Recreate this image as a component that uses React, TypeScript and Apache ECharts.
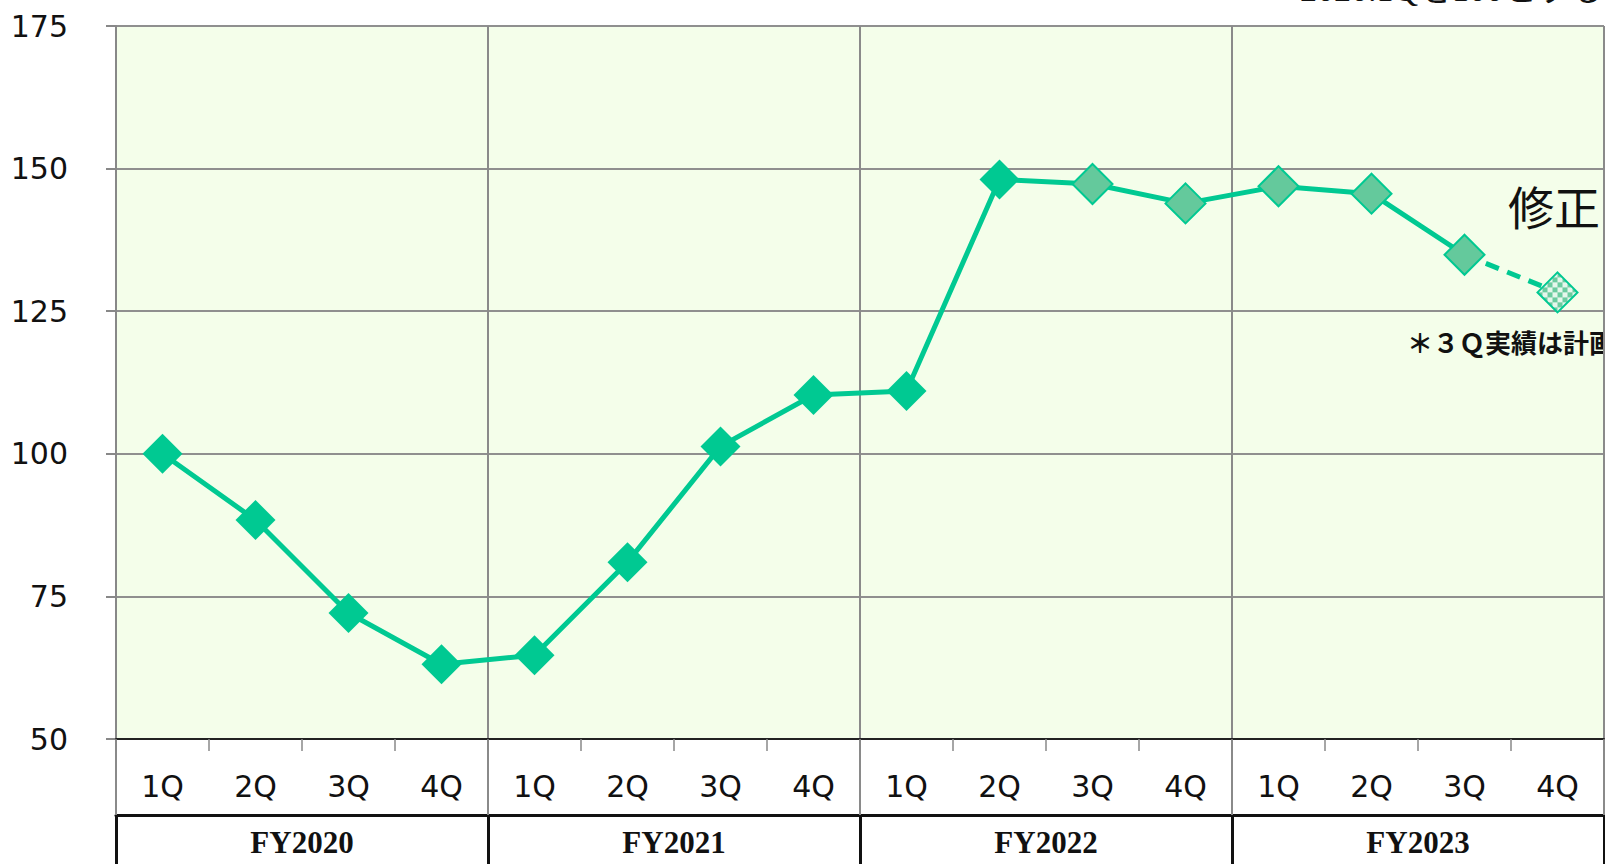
import React, { useEffect, useRef } from 'react';
import * as echarts from 'echarts';

const quarters = ['1Q', '2Q', '3Q', '4Q', '1Q', '2Q', '3Q', '4Q', '1Q', '2Q', '3Q', '4Q', '1Q', '2Q', '3Q', '4Q'];
const fiscalYears = ['FY2020', 'FY2021', 'FY2022', 'FY2023'];
const indexValues = [100, 88.4, 72.1, 63.1, 64.7, 81.0, 101.3, 110.3, 111.0, 148.1, 147.3, 143.9, 146.9, 145.6, 134.9, 128.3];
const brightCount = 10; // first points drawn in the solid bright colour
const planIndex = 15; // last point: plan (dashed segment, checkered marker)
const yMin = 50;
const yMax = 175;
const yStep = 25;
const topNote = '2020.1Qを100とする';
const reviseNote = '修正';
const footNote = '＊３Ｑ実績は計画';

const LINE = '#00C992';
const LIGHT = '#64C99C';

export default function App() {
  const ref = useRef<HTMLDivElement>(null);
  useEffect(() => {
    if (!ref.current) return;
    const chart = echarts.init(ref.current, undefined, { renderer: 'svg' });

    const cv = document.createElement('canvas');
    cv.width = 20;
    cv.height = 20;
    const ctx = cv.getContext('2d')!;
    ctx.fillStyle = '#E6F7EC';
    ctx.fillRect(0, 0, 20, 20);
    ctx.fillStyle = '#6CCB9F';
    ctx.fillRect(0, 0, 10, 10);
    ctx.fillRect(10, 10, 10, 10);
    // symbol path is drawn in unit space scaled by symbolSize/2 (=20), so shrink the pattern
    const checker = { image: cv, repeat: 'repeat', scaleX: 0.025, scaleY: 0.025 };

    const solidData = indexValues.map((v, i) => {
      if (i >= planIndex) return null;
      if (i < brightCount) return { value: v };
      return { value: v, itemStyle: { color: LIGHT, borderColor: LINE, borderWidth: 2 } };
    });
    const planData = indexValues.map((v, i) => {
      if (i === planIndex - 1) return { value: v, symbol: 'none' };
      if (i === planIndex) return { value: v };
      return null;
    });

    const axisFont = { fontFamily: 'DejaVu Sans', fontSize: 30, color: '#111' };

    chart.setOption({
      animation: false,
      backgroundColor: '#ffffff',
      grid: {
        left: 116,
        right: 1,
        top: 26,
        bottom: 125,
        show: true,
        backgroundColor: '#F4FEEA',
        borderWidth: 0,
      },
      xAxis: [
        {
          type: 'category',
          data: quarters,
          position: 'bottom',
          boundaryGap: true,
          axisLine: { show: true, lineStyle: { color: '#222', width: 2 } },
          axisTick: { show: true, interval: 0, length: 12, lineStyle: { color: '#888', width: 1.5 } },
          axisLabel: { ...axisFont, interval: 0, margin: 32 },
          splitLine: { show: false },
          z: 5,
        },
        {
          type: 'category',
          data: fiscalYears,
          position: 'bottom',
          boundaryGap: true,
          axisLine: { show: false },
          axisTick: { show: true, interval: 0, length: 76, lineStyle: { color: '#8a8a8a', width: 2 } },
          axisLabel: { show: false },
          splitLine: { show: true, interval: 0, lineStyle: { color: '#8a8a8a', width: 2 } },
        },
        {
          type: 'category',
          data: fiscalYears,
          position: 'bottom',
          offset: 76,
          boundaryGap: true,
          axisLine: { show: true, lineStyle: { color: '#111', width: 3 } },
          axisTick: { show: true, interval: 0, length: 60, lineStyle: { color: '#111', width: 3 } },
          axisLabel: {
            interval: 0,
            margin: 12,
            fontFamily: 'Liberation Serif',
            fontWeight: 'bold',
            fontSize: 31,
            color: '#111',
          },
          splitLine: { show: false },
        },
      ],
      yAxis: {
        type: 'value',
        min: yMin,
        max: yMax,
        interval: yStep,
        axisLine: { show: true, lineStyle: { color: '#888', width: 2 } },
        axisTick: { show: true, length: 10, lineStyle: { color: '#888', width: 2 } },
        axisLabel: { ...axisFont, margin: 48, padding: [0, 0, 9, 0] },
        splitLine: { show: true, lineStyle: { color: '#8f8f8f', width: 2 } },
      },
      series: [
        {
          type: 'line',
          data: planData,
          xAxisIndex: 0,
          z: 2,
          symbol: 'diamond',
          symbolSize: 40,
          connectNulls: false,
          lineStyle: { color: LINE, width: 5, type: [14, 9] },
          itemStyle: { color: checker, borderColor: LINE, borderWidth: 2 },
        },
        {
          type: 'line',
          data: solidData,
          xAxisIndex: 0,
          z: 3,
          symbol: 'diamond',
          symbolSize: 40,
          connectNulls: false,
          lineStyle: { color: LINE, width: 5 },
          itemStyle: { color: LINE },
        },
      ],
      graphic: [
        {
          type: 'text',
          left: 1300,
          top: -28,
          style: { text: topNote, fontFamily: 'Liberation Serif, Noto Sans CJK JP', fontSize: 34, fill: '#111' },
        },
        {
          type: 'text',
          left: 1508,
          top: 182,
          style: { text: reviseNote, fontFamily: 'Noto Sans CJK JP', fontSize: 46, fill: '#111' },
        },
        {
          type: 'text',
          left: 1407,
          top: 328,
          style: { text: footNote, fontFamily: 'Noto Sans CJK JP', fontWeight: 'bold', fontSize: 26, fill: '#111' },
        },
      ],
    });
    return () => chart.dispose();
  }, []);
  return <div ref={ref} style={{ position: 'fixed', left: 0, top: 0, width: 1605, height: 864 }} />;
}
